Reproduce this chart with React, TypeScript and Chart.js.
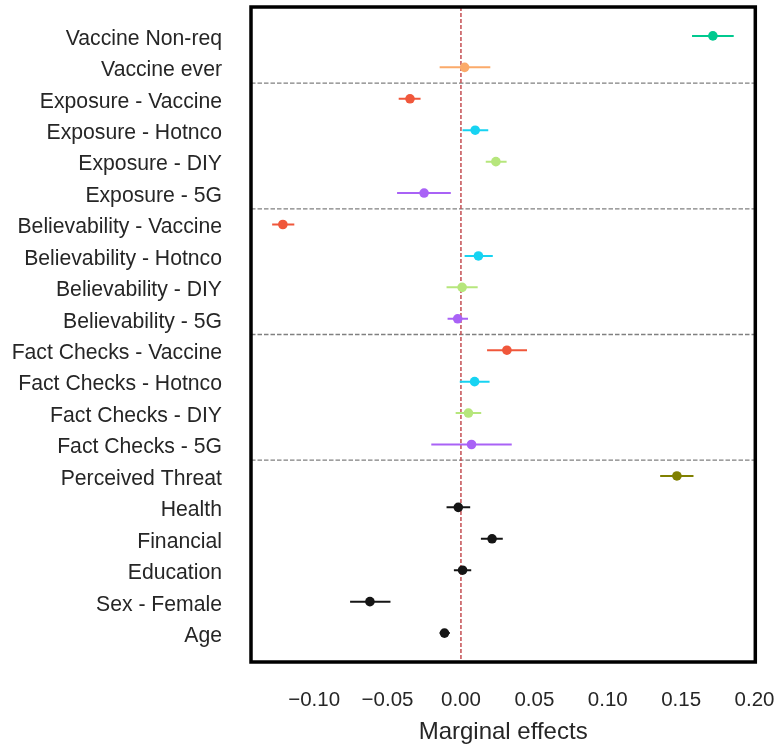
import React, { useEffect, useRef } from 'react';
import { Chart, registerables } from 'chart.js';

Chart.register(...registerables);

const categories = [
  'Vaccine Non-req',
  'Vaccine ever',
  'Exposure - Vaccine',
  'Exposure - Hotnco',
  'Exposure - DIY',
  'Exposure - 5G',
  'Believability - Vaccine',
  'Believability - Hotnco',
  'Believability - DIY',
  'Believability - 5G',
  'Fact Checks - Vaccine',
  'Fact Checks - Hotnco',
  'Fact Checks - DIY',
  'Fact Checks - 5G',
  'Perceived Threat',
  'Health',
  'Financial',
  'Education',
  'Sex - Female',
  'Age',
];

const effects = [
  0.1716, 0.0025, -0.0347, 0.0097, 0.0238, -0.0251, -0.1213, 0.0119, 0.0008, -0.0022,
  0.0313, 0.0093, 0.0051, 0.0072, 0.1471, -0.0018, 0.0212, 0.0011, -0.062, -0.0112,
];

const lower = [
  0.1574, -0.0145, -0.0424, 0.0011, 0.0169, -0.0435, -0.1286, 0.0025, -0.0098, -0.0091,
  0.0178, -0.0008, -0.0036, -0.0202, 0.1357, -0.0098, 0.0136, -0.0048, -0.0755, -0.0145,
];

const upper = [
  0.1858, 0.02, -0.0275, 0.0186, 0.0311, -0.0069, -0.1135, 0.0217, 0.0114, 0.0048,
  0.045, 0.0195, 0.0138, 0.0346, 0.1584, 0.0063, 0.0285, 0.007, -0.048, -0.0076,
];

const colors = [
  '#00c98f', '#fbaa6a', '#f0573b', '#17d3f2', '#b6e67c', '#a962f6', '#f0573b', '#17d3f2',
  '#b6e67c', '#a962f6', '#f0573b', '#17d3f2', '#b6e67c', '#a962f6', '#808000', '#151515',
  '#151515', '#151515', '#151515', '#151515',
];

const xTicks = [-0.1, -0.05, 0, 0.05, 0.1, 0.15, 0.2];
const groupSeparators = [1.5, 5.5, 9.5, 13.5];
const referenceX = 0;

const FONT = "'Liberation Sans', Arial, Helvetica, sans-serif";
const TEXT = '#262626';

const fmtTick = (v: number) => v.toFixed(2).replace('-', '\u2212');

const refLinesPlugin = {
  id: 'refLines',
  beforeDatasetsDraw(chart: any) {
    const { ctx, chartArea, scales } = chart;
    const { left, right, top, bottom } = chartArea;
    ctx.save();
    ctx.strokeStyle = '#808080';
    ctx.lineWidth = 1.3;
    ctx.setLineDash([4.5, 2]);
    groupSeparators.forEach((s) => {
      const py = scales.y.getPixelForValue(s);
      ctx.beginPath();
      ctx.moveTo(left, py);
      ctx.lineTo(right, py);
      ctx.stroke();
    });
    ctx.strokeStyle = '#c44e52';
    ctx.lineWidth = 1.5;
    ctx.setLineDash([4, 2]);
    const px = scales.x.getPixelForValue(referenceX);
    ctx.beginPath();
    ctx.moveTo(px, top);
    ctx.lineTo(px, bottom);
    ctx.stroke();
    ctx.restore();
  },
  afterDraw(chart: any) {
    const { ctx, chartArea } = chart;
    const { left, right, top, bottom } = chartArea;
    ctx.save();
    ctx.strokeStyle = '#000000';
    ctx.lineWidth = 3.5;
    ctx.setLineDash([]);
    ctx.strokeRect(left, top, right - left, bottom - top);
    ctx.restore();
  },
};

export default function App() {
  const canvasRef = useRef<HTMLCanvasElement | null>(null);

  useEffect(() => {
    if (!canvasRef.current) return;

    const errorSets = categories.map((_, i) => ({
      type: 'line' as const,
      data: [
        { x: lower[i], y: i },
        { x: upper[i], y: i },
      ],
      borderColor: colors[i],
      borderWidth: 2,
      pointRadius: 0,
      pointHoverRadius: 0,
      showLine: true,
      fill: false,
    }));

    const chart = new Chart(canvasRef.current, {
      type: 'scatter',
      data: {
        datasets: [
          {
            type: 'scatter' as const,
            data: categories.map((_, i) => ({ x: effects[i], y: i })),
            backgroundColor: colors,
            borderColor: colors,
            pointRadius: 4.8,
            pointHoverRadius: 4.8,
            borderWidth: 0,
          },
          ...errorSets,
        ] as any,
      },
      options: {
        responsive: false,
        animation: false,
        events: [],
        layout: { padding: { top: 7, right: 25.7, left: 0, bottom: 0 } },
        plugins: {
          legend: { display: false },
          tooltip: { enabled: false },
        },
        scales: {
          x: {
            type: 'linear',
            min: -0.143,
            max: 0.2005,
            grid: { display: false, drawTicks: false },
            border: { display: false },
            afterBuildTicks: (s: any) => {
              s.ticks = xTicks.map((v) => ({ value: v }));
            },
            afterFit: (s: any) => {
              s.height = 85;
              s.paddingLeft = 0;
              s.paddingRight = 0;
            },
            ticks: {
              autoSkip: false,
              maxRotation: 0,
              padding: 26,
              color: TEXT,
              font: { family: FONT, size: 20.5 },
              callback: (v: any) => fmtTick(Number(v)),
            },
            title: {
              display: true,
              text: 'Marginal effects',
              color: TEXT,
              font: { family: FONT, size: 24 },
              padding: { top: 0, bottom: 0 },
            },
          },
          y: {
            type: 'linear',
            reverse: true,
            min: -0.92,
            max: 19.92,
            grid: { display: false, drawTicks: false },
            border: { display: false },
            afterBuildTicks: (s: any) => {
              s.ticks = categories.map((_, i) => ({ value: i }));
            },
            afterFit: (s: any) => {
              s.width = 251;
              s.paddingTop = 0;
              s.paddingBottom = 0;
            },
            ticks: {
              autoSkip: false,
              padding: 29,
              labelOffset: 3,
              color: TEXT,
              font: { family: FONT, size: 21.2 },
              callback: (v: any) => categories[Number(v)] ?? '',
            },
          },
        },
      },
      plugins: [refLinesPlugin],
    });

    return () => chart.destroy();
  }, []);

  return (
    <div style={{ position: 'fixed', left: 0, top: 0, width: 781, height: 747, background: '#ffffff' }}>
      <canvas ref={canvasRef} width={781} height={747} style={{ display: 'block' }} />
    </div>
  );
}
